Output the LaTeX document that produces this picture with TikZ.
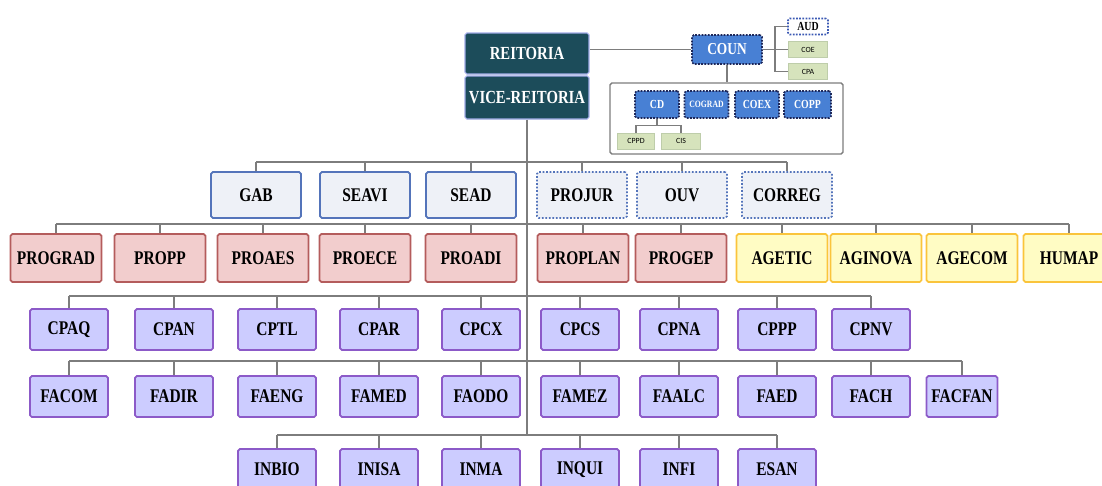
\documentclass[tikz,border=0pt]{standalone}
\usepackage{fontspec}
\setmainfont{Liberation Serif}[FakeStretch=0.8]
\newfontfamily\smallsans{Carlito}
\usetikzlibrary{positioning}
\definecolor{reitfill}{RGB}{28,76,90}
\definecolor{reitline}{RGB}{160,170,230}
\definecolor{counfill}{RGB}{72,128,212}
\definecolor{counline}{RGB}{30,40,90}
\definecolor{audline}{RGB}{60,90,180}
\definecolor{minfill}{RGB}{214,227,188}
\definecolor{minline}{RGB}{190,205,170}
\definecolor{secfill}{RGB}{238,241,247}
\definecolor{secline}{RGB}{84,116,186}
\definecolor{profill}{RGB}{242,205,205}
\definecolor{proline}{RGB}{180,92,92}
\definecolor{agefill}{RGB}{255,252,196}
\definecolor{ageline}{RGB}{250,196,60}
\definecolor{unitfill}{RGB}{204,204,255}
\definecolor{unitline}{RGB}{140,90,200}
\definecolor{linegray}{RGB}{125,125,125}
\tikzset{conn/.style = {draw=linegray, line width=0.8pt}}
\tikzset{box/.style = {draw, line width=1pt, rounded corners=1pt, inner sep=0,
                       font=\fontsize{11}{11}\selectfont\bfseries}}
\tikzset{top/.style = {box, fill=reitfill, draw=reitline, line width=0.6pt, text=white,
                       minimum width=2.48cm, font=\fontsize{10.5}{10.5}\selectfont\bfseries}}
\tikzset{sec/.style = {box, fill=secfill, draw=secline, minimum width=1.8cm, minimum height=0.92cm}}
\tikzset{secdot/.style = {sec, dash pattern=on 1pt off 1pt}}
\tikzset{pro/.style = {box, fill=profill, draw=proline, minimum width=1.82cm, minimum height=0.96cm}}
\tikzset{age/.style = {pro, fill=agefill, draw=ageline}}
\tikzset{unit/.style = {box, fill=unitfill, draw=unitline, minimum width=1.56cm, minimum height=0.82cm}}
\tikzset{council/.style = {box, fill=counfill, draw=counline, text=white, line width=0.9pt,
                           dash pattern=on 1pt off 0.8pt, minimum width=0.88cm, minimum height=0.54cm,
                           font=\fontsize{7}{7}\selectfont\bfseries}}
\tikzset{minor/.style = {draw=minline, fill=minfill, inner sep=0, minimum width=0.78cm,
                         minimum height=0.32cm, font=\smallsans\fontsize{4.5}{4.5}\selectfont}}
\tikzset{panel/.style = {draw=linegray, line width=0.8pt, rounded corners=1pt, fill=white,
                         minimum width=4.66cm, minimum height=1.42cm}}

\begin{document}
\begin{tikzpicture}[x=0.02cm, y=-0.02cm]
  \useasboundingbox (0,0) rectangle (1102,485);
  \clip (0,0) rectangle (1102,485);
  \coordinate (bus2) at (527,162);
  \coordinate (bus3) at (527,224);
  \coordinate (bus4) at (527,296);
  \coordinate (bus5) at (527,361);
  \coordinate (bus6) at (527,435);
  % reitoria and councils
  \node[top, minimum height=0.82cm] (REIT) at (527,53.5) {REITORIA};
  \node[top, minimum height=0.86cm] (VICE) at (527,97.5) {VICE-REITORIA};
  \node[council, minimum width=1.4cm, minimum height=0.58cm,
        font=\fontsize{9.5}{9.5}\selectfont\bfseries] (COUN) at (727,49.5) {COUN};
  \node[council, fill=white, draw=audline, text=black, minimum width=0.8cm,
        minimum height=0.32cm] (AUD) at (808,26.5) {AUD};
  \node[minor] (COE) at (808,49.5) {COE};
  \node[minor] (CPA) at (808,71.5) {CPA};
  \coordinate (cbr) at (775,49.5);
  \draw[conn] (COUN.west) -- (COUN.west -| REIT.east);
  \draw[conn] (COUN.east) -- (COE.west);
  \draw[conn] (AUD.west) -| (cbr) |- (CPA.west);
  \node[panel] (CONS) at (726.5,118.5) {};
  \draw[conn] (COUN.south) -- (CONS.north -| COUN.south);
  \node[council] (CD) at (657,104.5) {CD};
  \node[council, font=\fontsize{5.5}{5.5}\selectfont\bfseries] (COGRAD) at (706.5,104.5) {COGRAD};
  \node[council] (COEX) at (757,104.5) {COEX};
  \node[council, minimum width=0.94cm] (COPP) at (807.5,104.5) {COPP};
  \node[minor, minimum width=0.74cm] (CPPD) at (636,141) {CPPD};
  \node[minor] (CIS) at (681,141) {CIS};
  \draw[conn] (CD.south) -- ++(0,6.5) coordinate (cdb);
  \draw[conn] (CPPD.north) |- (cdb) -| (CIS.north);
  % trunk
  \draw[conn] (VICE.south) -- (bus6);
  % secretarias
  \foreach \n/\x in {GAB/256, SEAVI/365, SEAD/471}
    \node[sec] (\n) at (\x,195) {\n};
  \foreach \n/\x in {PROJUR/582, OUV/682, CORREG/787}
    \node[secdot] (\n) at (\x,195) {\n};
  \foreach \n in {GAB, SEAVI, SEAD, PROJUR, OUV, CORREG}
    \draw[conn] (\n.north) -- (\n.north |- bus2);
  \draw[conn] (GAB.north |- bus2) -- (CORREG.north |- bus2);
  % pro-reitorias and agencias
  \foreach \n/\x in {PROGRAD/56, PROPP/160, PROAES/263, PROECE/365, PROADI/471, PROPLAN/583, PROGEP/681}
    \node[pro] (\n) at (\x,258) {\n};
  \foreach \n/\x in {AGETIC/782, AGINOVA/876, AGECOM/972, HUMAP/1069}
    \node[age] (\n) at (\x,258) {\n};
  \foreach \n in {PROGRAD, PROPP, PROAES, PROECE, PROADI, PROPLAN, PROGEP, AGETIC, AGINOVA, AGECOM, HUMAP}
    \draw[conn] (\n.north) -- (\n.north |- bus3);
  \draw[conn] (PROGRAD.north |- bus3) -- (HUMAP.north |- bus3);
  % campi
  \foreach \n/\x in {CPAQ/69, CPAN/174, CPTL/277, CPAR/379, CPCX/481, CPCS/580, CPNA/679, CPPP/777, CPNV/871} {
    \node[unit] (\n) at (\x,329.5) {\n};
    \draw[conn] (\n.north) -- (\n.north |- bus4);
  }
  \draw[conn] (CPAQ.north |- bus4) -- (CPNV.north |- bus4);
  % faculdades
  \foreach \n/\x in {FACOM/69, FADIR/174, FAENG/277, FAMED/379, FAODO/481, FAMEZ/580, FAALC/679, FAED/777, FACH/871} {
    \node[unit] (\n) at (\x,396.5) {\n};
    \draw[conn] (\n.north) -- (\n.north |- bus5);
  }
  \node[unit, minimum width=1.42cm] (FACFAN) at (962,396.5) {FACFAN};
  \draw[conn] (FACFAN.north) -- (FACFAN.north |- bus5);
  \draw[conn] (FACOM.north |- bus5) -- (FACFAN.north |- bus5);
  % institutos
  \foreach \n/\x in {INBIO/277, INISA/379, INMA/481, INQUI/580, INFI/679, ESAN/777} {
    \node[unit] (\n) at (\x,469.5) {\n};
    \draw[conn] (\n.north) -- (\n.north |- bus6);
  }
  \draw[conn] (INBIO.north |- bus6) -- (ESAN.north |- bus6);
\end{tikzpicture}
\end{document}
